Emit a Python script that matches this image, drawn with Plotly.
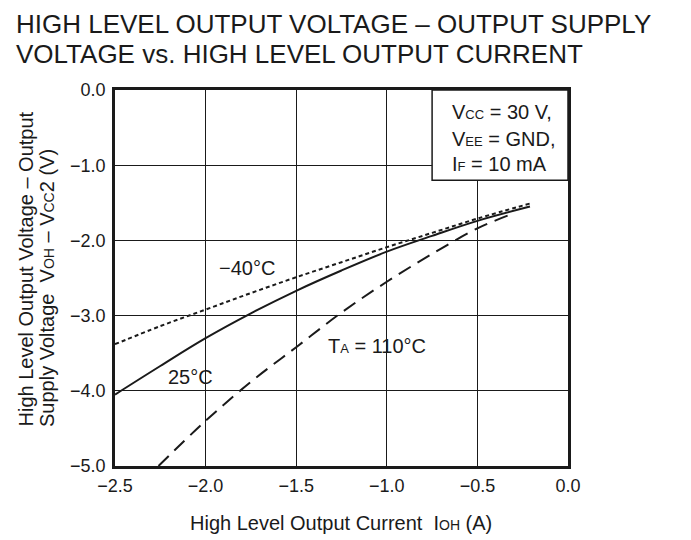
import plotly.graph_objects as go

# Data
i_25 = [-2.5, -2.25, -2.0, -1.75, -1.5, -1.25, -1.0, -0.75, -0.5, -0.21]
v_25 = [-4.05, -3.67, -3.30, -2.97, -2.67, -2.40, -2.15, -1.94, -1.74, -1.55]

i_m40 = [-2.5, -2.25, -2.0, -1.75, -1.5, -1.25, -1.0, -0.75, -0.5, -0.21]
v_m40 = [-3.38, -3.14, -2.92, -2.70, -2.49, -2.29, -2.09, -1.90, -1.71, -1.51]

i_110 = [-2.26, -2.0, -1.75, -1.5, -1.25, -1.0, -0.75, -0.5, -0.31]
v_110 = [-5.0, -4.40, -3.88, -3.42, -2.96, -2.55, -2.18, -1.84, -1.65]

x_ticks = [-2.5, -2.0, -1.5, -1.0, -0.5, 0.0]
x_ticktext = ["\u22122.5", "\u22122.0", "\u22121.5", "\u22121.0", "\u22120.5", "0.0"]
y_ticks = [0.0, -1.0, -2.0, -3.0, -4.0, -5.0]
y_ticktext = ["0.0", "\u22121.0", "\u22122.0", "\u22123.0", "\u22124.0", "\u22125.0"]

FONT = "Liberation Sans, Arial, sans-serif"
INK = "#1a1a1a"

fig = go.Figure()
fig.add_trace(go.Scatter(x=i_m40, y=v_m40, mode="lines",
                         line=dict(color=INK, width=2, dash="4px,3px", shape="spline", smoothing=1.0)))
fig.add_trace(go.Scatter(x=i_25, y=v_25, mode="lines",
                         line=dict(color=INK, width=2, shape="spline", smoothing=1.0)))
fig.add_trace(go.Scatter(x=i_110, y=v_110, mode="lines",
                         line=dict(color=INK, width=2, dash="14px,8px", shape="spline", smoothing=1.0)))

OFF = 8  # default page body margin
W, H = 691 - OFF, 540 - OFF
L, R, T, B = 115 - OFF, 123, 90 - OFF, 74
pw, ph = W - L - R, H - T - B


def px(x):
    return (x - OFF - L) / pw


def py(y):
    return (H - B - (y - OFF)) / ph


def sub(s, size=13):
    return "<span style='font-size:%dpx'>%s</span>" % (size, s)


def ann(text, x, y, size, xa="left", ya="middle", angle=0):
    return dict(text=text, x=px(x), y=py(y), xref="paper", yref="paper", showarrow=False,
                xanchor=xa, yanchor=ya, textangle=angle,
                font=dict(size=size, family=FONT, color=INK))


annotations = [
    ann("HIGH LEVEL OUTPUT VOLTAGE \u2013 OUTPUT SUPPLY", 14, 24, 26),
    ann("VOLTAGE vs. HIGH LEVEL OUTPUT CURRENT", 14, 54, 26),
    ann("High Level Output Voltage \u2013 Output", 25, 429, 20, xa="center", ya="bottom", angle=-90),
    ann("Supply Voltage  V" + sub("OH", 14) + " \u2013 V" + sub("CC", 14) + "2 (V)", 47, 429, 20,
        xa="center", ya="bottom", angle=-90),
    ann("High Level Output Current  I" + sub("OH", 14) + " (A)", 341, 523, 20, xa="center"),
    ann("V" + sub("CC") + " = 30 V,", 450, 112, 20),
    ann("V" + sub("EE") + " = GND,", 450, 139, 20),
    ann("I" + sub("F") + " = 10 mA", 450, 164, 20),
    ann("\u221240\u00b0C", 217, 268, 20),
    ann("25\u00b0C", 166, 377, 20),
    ann("T" + sub("A") + " = 110\u00b0C", 326, 346, 20),
]

fig.update_layout(
    width=W, height=H,
    margin=dict(l=L, r=R, t=T, b=B),
    paper_bgcolor="white", plot_bgcolor="white",
    showlegend=False,
    font=dict(family=FONT, size=18, color=INK),
    annotations=annotations,
    shapes=[dict(type="rect", xref="x", yref="y", x0=-0.75, x1=0.0, y0=-1.2, y1=0.0,
                 fillcolor="white", line=dict(color=INK, width=1.5), layer="above")],
)
fig.update_xaxes(range=[-2.5, 0.0], tickvals=x_ticks, ticktext=x_ticktext,
                 showgrid=True, gridcolor=INK, gridwidth=1,
                 showline=True, linecolor=INK, linewidth=2.5, mirror=True,
                 ticks="", ticklabelstandoff=2, zeroline=False,
                 tickfont=dict(size=18, family=FONT, color=INK))
fig.update_yaxes(range=[-5.0, 0.0], tickvals=y_ticks, ticktext=y_ticktext,
                 showgrid=True, gridcolor=INK, gridwidth=1,
                 showline=True, linecolor=INK, linewidth=2.5, mirror=True,
                 ticks="", ticklabelstandoff=3, zeroline=False,
                 tickfont=dict(size=18, family=FONT, color=INK))

fig.write_html("out.html")
